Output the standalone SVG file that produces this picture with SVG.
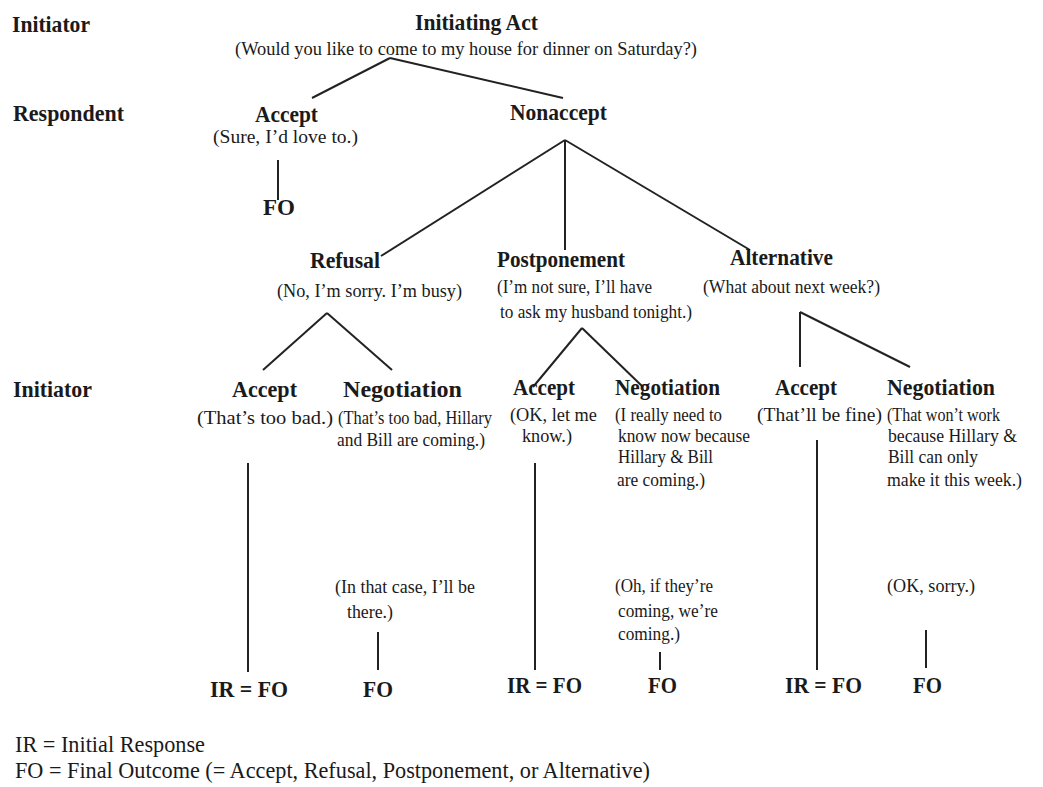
<svg xmlns="http://www.w3.org/2000/svg" width="1043" height="787" viewBox="0 0 1043 787">
<style>
text{font-family:"Liberation Serif","Times New Roman",serif;fill:#1a1a1a}
.h{font-weight:bold;font-size:23px}
.s{font-size:18px}
.l{font-size:24px}
.c line{stroke:#222;stroke-width:2;fill:none}
</style>
<rect width="1043" height="787" fill="#ffffff"/>
<g id="connectors" class="c">
<line x1="390" y1="58" x2="312" y2="98"/>
<line x1="390" y1="58" x2="563" y2="98"/>
<line x1="278" y1="160" x2="278" y2="200"/>
<line x1="565" y1="140" x2="381" y2="256"/>
<line x1="565" y1="140" x2="565" y2="250"/>
<line x1="565" y1="140" x2="750" y2="250"/>
<line x1="327" y1="313" x2="263" y2="370"/>
<line x1="327" y1="313" x2="392" y2="370"/>
<line x1="582" y1="328" x2="533" y2="387"/>
<line x1="582" y1="328" x2="643" y2="387"/>
<line x1="800" y1="312" x2="800" y2="367"/>
<line x1="800" y1="312" x2="910" y2="367"/>
<line x1="248" y1="463" x2="248" y2="672"/>
<line x1="378" y1="632" x2="378" y2="670"/>
<line x1="535" y1="463" x2="535" y2="670"/>
<line x1="660" y1="652" x2="660" y2="670"/>
<line x1="817" y1="440" x2="817" y2="670"/>
<line x1="926" y1="630" x2="926" y2="668"/>
</g>
<g id="row-labels">
<text class="h" x="12" y="32" textLength="78" lengthAdjust="spacingAndGlyphs">Initiator</text>
<text class="h" x="13" y="121" textLength="111" lengthAdjust="spacingAndGlyphs">Respondent</text>
<text class="h" x="13" y="397" textLength="79" lengthAdjust="spacingAndGlyphs">Initiator</text>
</g>
<g id="initiating-act">
<text class="h" x="415" y="30" textLength="123" lengthAdjust="spacingAndGlyphs">Initiating Act</text>
<text class="s" x="235" y="55" textLength="462" lengthAdjust="spacingAndGlyphs">(Would you like to come to my house for dinner on Saturday?)</text>
</g>
<g id="accept-1">
<text class="h" x="255" y="122" textLength="63" lengthAdjust="spacingAndGlyphs">Accept</text>
<text class="s" x="213" y="143" textLength="145" lengthAdjust="spacingAndGlyphs">(Sure, I’d love to.)</text>
</g>
<g id="fo-1">
<text class="h" x="263" y="215" textLength="32" lengthAdjust="spacingAndGlyphs">FO</text>
</g>
<g id="nonaccept">
<text class="h" x="510" y="120" textLength="97" lengthAdjust="spacingAndGlyphs">Nonaccept</text>
</g>
<g id="refusal">
<text class="h" x="310" y="268" textLength="70" lengthAdjust="spacingAndGlyphs">Refusal</text>
<text class="s" x="277" y="297" textLength="185" lengthAdjust="spacingAndGlyphs">(No, I’m sorry. I’m busy)</text>
</g>
<g id="postponement">
<text class="h" x="497" y="267" textLength="128" lengthAdjust="spacingAndGlyphs">Postponement</text>
<text class="s" x="497" y="293" textLength="155" lengthAdjust="spacingAndGlyphs">(I’m not sure, I’ll have</text>
<text class="s" x="500" y="318" textLength="192" lengthAdjust="spacingAndGlyphs">to ask my husband tonight.)</text>
</g>
<g id="alternative">
<text class="h" x="730" y="265" textLength="103" lengthAdjust="spacingAndGlyphs">Alternative</text>
<text class="s" x="703" y="293" textLength="177" lengthAdjust="spacingAndGlyphs">(What about next week?)</text>
</g>
<g id="refusal-accept">
<text class="h" x="232" y="397" textLength="65" lengthAdjust="spacingAndGlyphs">Accept</text>
<text class="s" x="197" y="424" textLength="136" lengthAdjust="spacingAndGlyphs">(That’s too bad.)</text>
</g>
<g id="refusal-negotiation">
<text class="h" x="343" y="397" textLength="119" lengthAdjust="spacingAndGlyphs">Negotiation</text>
<text class="s" x="338" y="424" textLength="154" lengthAdjust="spacingAndGlyphs">(That’s too bad, Hillary</text>
<text class="s" x="337" y="446" textLength="148" lengthAdjust="spacingAndGlyphs">and Bill are coming.)</text>
</g>
<g id="postponement-accept">
<text class="h" x="513" y="395" textLength="62" lengthAdjust="spacingAndGlyphs">Accept</text>
<text class="s" x="510" y="421" textLength="87" lengthAdjust="spacingAndGlyphs">(OK, let me</text>
<text class="s" x="522" y="442" textLength="50" lengthAdjust="spacingAndGlyphs">know.)</text>
</g>
<g id="postponement-negotiation">
<text class="h" x="615" y="395" textLength="105" lengthAdjust="spacingAndGlyphs">Negotiation</text>
<text class="s" x="615" y="421" textLength="107" lengthAdjust="spacingAndGlyphs">(I really need to</text>
<text class="s" x="618" y="442" textLength="132" lengthAdjust="spacingAndGlyphs">know now because</text>
<text class="s" x="618" y="463" textLength="95" lengthAdjust="spacingAndGlyphs">Hillary &amp; Bill</text>
<text class="s" x="617" y="486" textLength="88" lengthAdjust="spacingAndGlyphs">are coming.)</text>
</g>
<g id="alternative-accept">
<text class="h" x="775" y="395" textLength="62" lengthAdjust="spacingAndGlyphs">Accept</text>
<text class="s" x="757" y="421" textLength="125" lengthAdjust="spacingAndGlyphs">(That’ll be fine)</text>
</g>
<g id="alternative-negotiation">
<text class="h" x="887" y="395" textLength="108" lengthAdjust="spacingAndGlyphs">Negotiation</text>
<text class="s" x="887" y="421" textLength="113" lengthAdjust="spacingAndGlyphs">(That won’t work</text>
<text class="s" x="888" y="442" textLength="129" lengthAdjust="spacingAndGlyphs">because Hillary &amp;</text>
<text class="s" x="888" y="463" textLength="90" lengthAdjust="spacingAndGlyphs">Bill can only</text>
<text class="s" x="887" y="486" textLength="135" lengthAdjust="spacingAndGlyphs">make it this week.)</text>
</g>
<g id="refusal-negotiation-reply">
<text class="s" x="335" y="593" textLength="140" lengthAdjust="spacingAndGlyphs">(In that case, I’ll be</text>
<text class="s" x="347" y="618" textLength="46" lengthAdjust="spacingAndGlyphs">there.)</text>
</g>
<g id="postponement-negotiation-reply">
<text class="s" x="615" y="592" textLength="98" lengthAdjust="spacingAndGlyphs">(Oh, if they’re</text>
<text class="s" x="618" y="617" textLength="100" lengthAdjust="spacingAndGlyphs">coming, we’re</text>
<text class="s" x="618" y="640" textLength="62" lengthAdjust="spacingAndGlyphs">coming.)</text>
</g>
<g id="alternative-negotiation-reply">
<text class="s" x="887" y="592" textLength="88" lengthAdjust="spacingAndGlyphs">(OK, sorry.)</text>
</g>
<g id="outcome-refusal-accept"><text class="h" x="210" y="697" textLength="78" lengthAdjust="spacingAndGlyphs">IR = FO</text></g>
<g id="outcome-refusal-negotiation"><text class="h" x="363" y="697" textLength="30" lengthAdjust="spacingAndGlyphs">FO</text></g>
<g id="outcome-postponement-accept"><text class="h" x="507" y="693" textLength="75" lengthAdjust="spacingAndGlyphs">IR = FO</text></g>
<g id="outcome-postponement-negotiation"><text class="h" x="648" y="693" textLength="29" lengthAdjust="spacingAndGlyphs">FO</text></g>
<g id="outcome-alternative-accept"><text class="h" x="785" y="693" textLength="77" lengthAdjust="spacingAndGlyphs">IR = FO</text></g>
<g id="outcome-alternative-negotiation"><text class="h" x="913" y="693" textLength="29" lengthAdjust="spacingAndGlyphs">FO</text></g>
<g id="legend">
<text class="l" x="15" y="752" textLength="190" lengthAdjust="spacingAndGlyphs">IR = Initial Response</text>
<text class="l" x="15" y="778" textLength="635" lengthAdjust="spacingAndGlyphs">FO = Final Outcome (= Accept, Refusal, Postponement, or Alternative)</text>
</g>
</svg>
